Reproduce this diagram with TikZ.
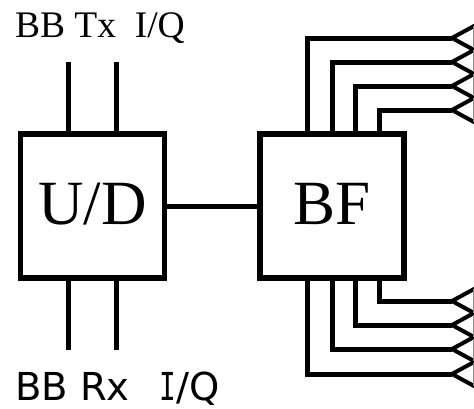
\documentclass[tikz,border=0pt]{standalone}
\usepackage{fontspec}
\setmainfont{Liberation Serif}
\newfontfamily\sansf{DejaVu Sans}
\newfontfamily\monof{DejaVu Sans Mono}
\tikzset{
  blockbox/.style={draw=black,line width=5.5pt,minimum width=144pt,minimum height=144pt,inner sep=0pt,outer sep=0pt,text height=41pt,text depth=4pt,font=\fontsize{63}{63}\selectfont},
  wire/.style={draw=black,line width=5pt,line cap=butt,line join=miter},
  antline/.style={draw=black,line width=4pt,line join=miter,line cap=round},
  lab/.style={inner sep=0pt,outer sep=0pt,anchor=base west},
}
\begin{document}
\begin{tikzpicture}[x=1pt,y=-1pt]
\useasboundingbox (0,0) rectangle (474,408);
\node[blockbox] (ud) at (92.5,206) {U/D};
\node[blockbox] (bf) at (332,206) {BF};
\draw[wire] (ud.east) -- (bf.west);
\node[lab] (tx) at (15,37) {\fontsize{37.5}{40}\selectfont BB Tx\hspace{0.5em}I/Q};
\node[lab] (rx) at (15,400) {\fontsize{38.5}{40}\selectfont\sansf BB Rx\hspace{0.78em}\scalebox{0.72}[1]{\monof I}/Q};
% baseband stubs
\foreach \n/\x in {a/68.5,b/116}{
  \coordinate (t\n) at (\x,62);
  \coordinate (r\n) at (\x,350);
  \draw[wire] (t\n) -- (t\n |- ud.north);
  \draw[wire] (r\n) -- (r\n |- ud.south);
}
% antenna feeds
\foreach \n/\x/\yt/\yb in {1/307.5/38/374,2/332/62/349,3/355.5/86/325,4/379/110/301}{
  \coordinate (at\n) at (452,\yt);
  \coordinate (ab\n) at (452,\yb);
  \coordinate (ft\n) at (\x,134);
  \coordinate (fb\n) at (\x,278);
  \draw[wire] (ft\n) |- (at\n);
  \draw[wire] (fb\n) |- (ab\n);
  \foreach \c in {at\n,ab\n}{
    \draw[antline] ([shift={(22,-12)}]\c) -- (\c) -- ([shift={(22,12)}]\c);
    \draw[draw=black!45,line width=1pt] ([shift={(21.5,-12)}]\c) -- ([shift={(21.5,12)}]\c);
  }
}
\end{tikzpicture}
\end{document}
